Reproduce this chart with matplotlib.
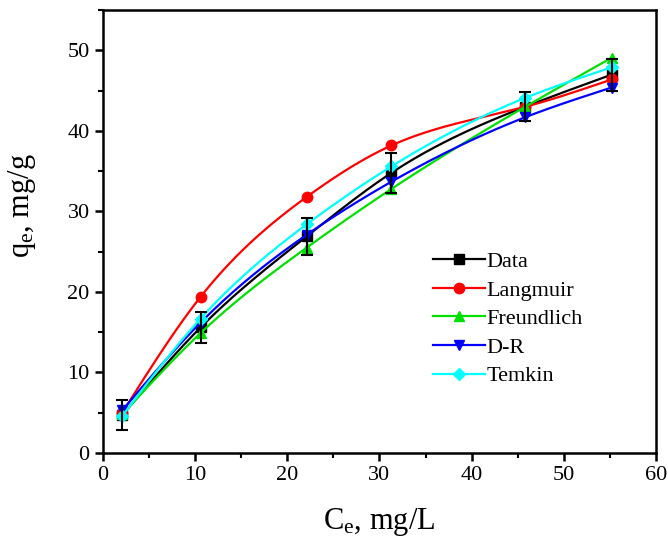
import matplotlib
matplotlib.use('Agg')
import matplotlib.pyplot as plt
from matplotlib.ticker import MultipleLocator
import numpy as np

plt.rcParams['font.family'] = ['Liberation Serif', 'DejaVu Serif']
plt.rcParams['mathtext.fontset'] = 'custom'
plt.rcParams['mathtext.rm'] = 'Liberation Serif'
plt.rcParams['mathtext.it'] = 'Liberation Serif:italic'

ce = [2.1, 10.6, 22.1, 31.3, 45.8, 55.2]
q_data = [4.7, 15.6, 26.9, 34.8, 43.0, 47.0]
q_err = [1.9, 1.9, 2.3, 2.5, 1.8, 2.0]
q_langmuir = [5.0, 19.4, 31.8, 38.2, 43.0, 46.4]
q_freundlich = [4.8, 14.9, 25.5, 32.8, 43.0, 49.1]
q_dr = [5.3, 16.2, 27.1, 33.7, 41.7, 45.4]
q_temkin = [4.6, 16.7, 28.4, 35.6, 44.1, 47.9]

names = ['Data', 'Langmuir', 'Freundlich', 'D-R', 'Temkin']
colors = ['black', 'red', '#00e000', 'blue', 'cyan']
markers = ['s', 'o', '^', 'v', 'D']


def smooth(x, y, n=200):
    # natural cubic spline through the points, only for drawing the line
    x = np.asarray(x, float)
    y = np.asarray(y, float)
    k = len(x)
    h = np.diff(x)
    A = np.zeros((k, k))
    b = np.zeros(k)
    A[0, 0] = A[-1, -1] = 1
    for i in range(1, k - 1):
        A[i, i - 1] = h[i - 1]
        A[i, i] = 2 * (h[i - 1] + h[i])
        A[i, i + 1] = h[i]
        b[i] = 6 * ((y[i + 1] - y[i]) / h[i] - (y[i] - y[i - 1]) / h[i - 1])
    m = np.linalg.solve(A, b)
    xs = np.linspace(x[0], x[-1], n)
    idx = np.clip(np.searchsorted(x, xs) - 1, 0, k - 2)
    x0, x1 = x[idx], x[idx + 1]
    hh = x1 - x0
    t0, t1 = x1 - xs, xs - x0
    ys = (m[idx] * t0 ** 3 + m[idx + 1] * t1 ** 3) / (6 * hh) \
        + (y[idx] / hh - m[idx] * hh / 6) * t0 + (y[idx + 1] / hh - m[idx + 1] * hh / 6) * t1
    return xs, ys


fig = plt.figure(figsize=(6.68, 5.38), dpi=100)
ax = fig.add_axes([0.154, 0.158, 0.828, 0.823])

series = [q_data, q_langmuir, q_freundlich, q_dr, q_temkin]
for name, vals, c, mk in zip(names, series, colors, markers):
    xs, ys = smooth(ce, vals)
    ax.plot(xs, ys, color=c, linewidth=1.6)
    ms = 6 if mk == 'D' else 7.5
    ax.plot(ce, vals, linestyle='none', marker=mk, color=c, markersize=ms)
    ax.plot([], [], color=c, marker=mk, markersize=ms, linewidth=1.6, label=name)

ax.errorbar(ce, q_data, yerr=q_err, fmt='none', ecolor='black', elinewidth=1.5,
            capsize=4, capthick=1.5, zorder=5)

ax.set_xlim(0, 60)
ax.set_ylim(0, 55)
ax.xaxis.set_major_locator(MultipleLocator(10))
ax.xaxis.set_minor_locator(MultipleLocator(5))
ax.yaxis.set_major_locator(MultipleLocator(10))
ax.yaxis.set_minor_locator(MultipleLocator(5))
ax.tick_params(which='major', direction='out', length=6, width=1.8, labelsize=16,
               top=False, right=False)
ax.tick_params(which='minor', direction='out', length=3.5, width=1.5,
               top=False, right=False)
for s in ax.spines.values():
    s.set_linewidth(1.8)

ax.set_xlabel(r'C$_\mathregular{e}$, mg/L', fontsize=22, labelpad=15)
ax.set_ylabel(r'q$_\mathregular{e}$, mg/g', fontsize=22)
ax.yaxis.set_label_coords(-0.118, 0.56)

ax.legend(loc='upper left', bbox_to_anchor=(0.597, 0.455), frameon=False, fontsize=16,
          handlelength=2.35, handletextpad=0.05, labelspacing=0.36, borderaxespad=0,
          borderpad=0)

fig.savefig('out.png', dpi=100)
